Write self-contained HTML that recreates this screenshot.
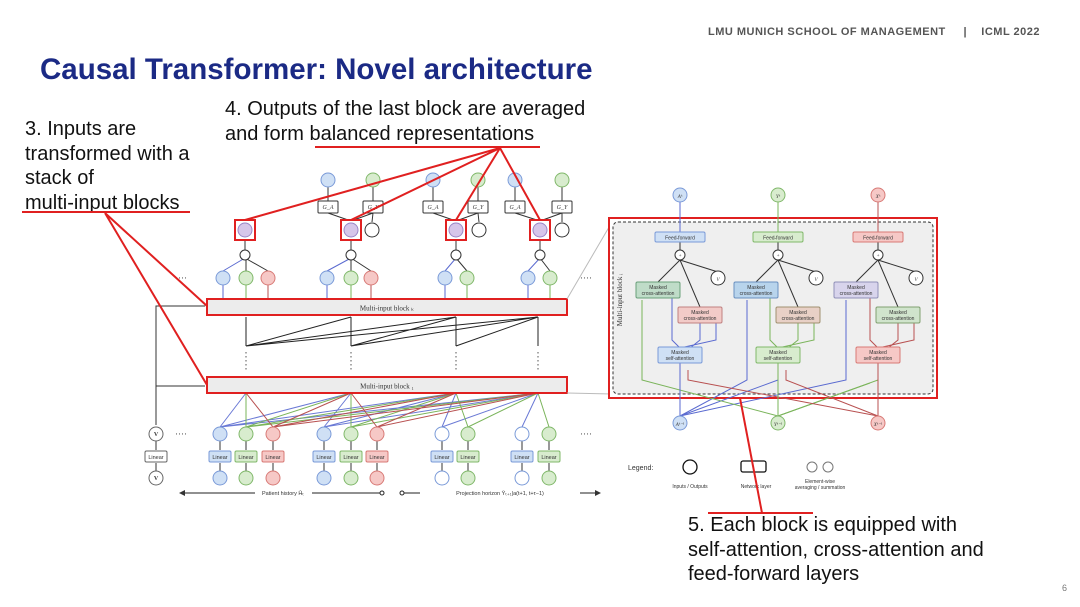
<!DOCTYPE html>
<html><head><meta charset="utf-8">
<style>
html,body{margin:0;padding:0;background:#fff;}
body{width:1080px;height:607px;overflow:hidden;position:relative;font-family:"Liberation Sans",sans-serif;}
.t{position:absolute;color:#111;font-size:20px;line-height:24.5px;}
</style></head><body>
<div style="position:absolute;left:708px;top:26px;font-size:11px;font-weight:bold;color:#555;letter-spacing:0.5px;">LMU MUNICH SCHOOL OF MANAGEMENT &nbsp;&nbsp;&nbsp;&nbsp;|&nbsp;&nbsp;&nbsp; ICML 2022</div>
<div style="position:absolute;left:40px;top:53px;font-size:29.5px;font-weight:bold;color:#1b2a85;">Causal Transformer: Novel architecture</div>
<div class="t" style="left:25px;top:117px;">3. Inputs are<br>transformed with a<br>stack of<br>multi-input blocks</div>
<div class="t" style="left:225px;top:97px;">4. Outputs of the last block are averaged<br>and form balanced representations</div>
<div class="t" style="left:688px;top:513px;">5. Each block is equipped with<br>self-attention, cross-attention and<br>feed-forward layers</div>
<div style="position:absolute;left:1062px;top:583px;font-size:9px;color:#777;">6</div>

<svg width="1080" height="607" style="position:absolute;left:0;top:0" font-family="Liberation Serif,serif">
<defs>
<marker id="ar" markerWidth="6" markerHeight="6" refX="5" refY="3" orient="auto"><path d="M0,0L6,3L0,6z" fill="#333"/></marker>
</defs>
<g stroke-width="1" fill="none">
<g stroke="#5a6ad0" opacity="0.9">
<path d="M220,427L246,393M220,427L351,393M220,427L456,393M220,427L538,393M324,427L351,393M324,427L456,393M324,427L538,393M442,427L456,393M442,427L538,393M522,427L538,393"/>
</g>
<g stroke="#7ab45a">
<path d="M246,427L246,393M246,427L351,393M246,427L456,393M246,427L538,393M351,427L351,393M351,427L456,393M351,427L538,393M468,427L456,393M468,427L538,393M549,427L538,393"/>
</g>
<g stroke="#b85050">
<path d="M273,427L246,393M273,427L351,393M273,427L456,393M273,427L538,393M377,427L351,393M377,427L456,393M377,427L538,393"/>
</g>
<g stroke="#222">
<path d="M246,346L246,317M351,346L351,317M456,346L456,317M538,346L538,317"/>
<path d="M246,346L351,317M246,346L456,317M246,346L538,317M351,346L456,317M351,346L538,317M456,346L538,317"/>
</g>
<g stroke="#555" stroke-dasharray="1.5,2.5"><path d="M246,352V372M351,352V372M456,352V372M538,352V372"/></g>
<path d="M156,425V306H205M156,386H205" stroke="#333"/>
<g stroke="#5a6ad0"><path d="M223,299V285M327,299V285M445,299V285M528,299V285"/></g>
<g stroke="#7ab45a"><path d="M246,299V285M351,299V285M467,299V285M550,299V285"/></g>
<g stroke="#b85050"><path d="M268,299V285M371,299V285"/></g>
<g stroke="#5a6ad0"><path d="M223,271L245,258M327,271L351,258M445,271L456,258M528,271L540,258"/></g>
<g stroke="#333"><path d="M246,271V260M268,271L245,258M351,271V260M371,271L351,258M467,271L456,258M550,271L540,258"/>
<path d="M245,250V240M351,250V240M456,250V240M540,250V240"/>
<path d="M351,221L328,213M351,221L373,213M372,222L373,213M456,221L433,213M456,221L478,213M479,222L478,213M540,221L515,213M540,221L562,213M562,222L562,213"/>
<path d="M328,201V187M373,201V187M433,201V187M478,201V187M515,201V187M562,201V187"/>
<path d="M220,450V441M246,450V441M273,450V441M324,450V441M351,450V441M377,450V441M442,450V441M468,450V441M522,450V441M549,450V441M156,450V441"/>
<path d="M220,471V463M246,471V463M273,471V463M324,471V463M351,471V463M377,471V463M442,471V463M468,471V463M522,471V463M549,471V463M156,471V463"/>
</g>
</g>
<rect x="207" y="299" width="360" height="16" fill="#ececec" stroke="#e02020" stroke-width="2"/>
<text x="387" y="310.5" font-size="7" text-anchor="middle" fill="#333">Multi-input block ₖ</text>
<rect x="207" y="377" width="360" height="16" fill="#ececec" stroke="#e02020" stroke-width="2"/>
<text x="387" y="388.5" font-size="7" text-anchor="middle" fill="#333">Multi-input block ₁</text>
<g stroke-width="1">
<circle cx="328" cy="180" r="7" fill="#cfe0f5" stroke="#7a9ad8"/><circle cx="373" cy="180" r="7" fill="#d8ecce" stroke="#80b86a"/>
<circle cx="433" cy="180" r="7" fill="#cfe0f5" stroke="#7a9ad8"/><circle cx="478" cy="180" r="7" fill="#d8ecce" stroke="#80b86a"/>
<circle cx="515" cy="180" r="7" fill="#cfe0f5" stroke="#7a9ad8"/><circle cx="562" cy="180" r="7" fill="#d8ecce" stroke="#80b86a"/>
<g fill="#fff" stroke="#333">
<rect x="318" y="201" width="20" height="12" rx="1"/><rect x="363" y="201" width="20" height="12" rx="1"/>
<rect x="423" y="201" width="20" height="12" rx="1"/><rect x="468" y="201" width="20" height="12" rx="1"/>
<rect x="505" y="201" width="20" height="12" rx="1"/><rect x="552" y="201" width="20" height="12" rx="1"/>
<circle cx="372" cy="230" r="7"/><circle cx="479" cy="230" r="7"/><circle cx="562" cy="230" r="7"/>
<circle cx="245" cy="255" r="5"/><circle cx="351" cy="255" r="5"/><circle cx="456" cy="255" r="5"/><circle cx="540" cy="255" r="5"/>
</g>
<g font-size="6" fill="#333" text-anchor="middle" font-style="italic">
<text x="328" y="209">G_A</text><text x="373" y="209">G_Y</text><text x="433" y="209">G_A</text><text x="478" y="209">G_Y</text><text x="515" y="209">G_A</text><text x="562" y="209">G_Y</text>
</g>
<g>
<rect x="235" y="220" width="20" height="20" fill="#fff" stroke="#e02020" stroke-width="2"/><circle cx="245" cy="230" r="7" fill="#d6c6ea" stroke="#9a86c6"/>
<rect x="341" y="220" width="20" height="20" fill="#fff" stroke="#e02020" stroke-width="2"/><circle cx="351" cy="230" r="7" fill="#d6c6ea" stroke="#9a86c6"/>
<rect x="446" y="220" width="20" height="20" fill="#fff" stroke="#e02020" stroke-width="2"/><circle cx="456" cy="230" r="7" fill="#d6c6ea" stroke="#9a86c6"/>
<rect x="530" y="220" width="20" height="20" fill="#fff" stroke="#e02020" stroke-width="2"/><circle cx="540" cy="230" r="7" fill="#d6c6ea" stroke="#9a86c6"/>
</g>
<g>
<circle cx="223" cy="278" r="7" fill="#cfe0f5" stroke="#7a9ad8"/><circle cx="246" cy="278" r="7" fill="#d8ecce" stroke="#80b86a"/><circle cx="268" cy="278" r="7" fill="#f6c8c6" stroke="#d87a76"/>
<circle cx="327" cy="278" r="7" fill="#cfe0f5" stroke="#7a9ad8"/><circle cx="351" cy="278" r="7" fill="#d8ecce" stroke="#80b86a"/><circle cx="371" cy="278" r="7" fill="#f6c8c6" stroke="#d87a76"/>
<circle cx="445" cy="278" r="7" fill="#cfe0f5" stroke="#7a9ad8"/><circle cx="467" cy="278" r="7" fill="#d8ecce" stroke="#80b86a"/>
<circle cx="528" cy="278" r="7" fill="#cfe0f5" stroke="#7a9ad8"/><circle cx="550" cy="278" r="7" fill="#d8ecce" stroke="#80b86a"/>
</g>
<g>
<circle cx="220" cy="434" r="7" fill="#cfe0f5" stroke="#7a9ad8"/><circle cx="246" cy="434" r="7" fill="#d8ecce" stroke="#80b86a"/><circle cx="273" cy="434" r="7" fill="#f6c8c6" stroke="#d87a76"/>
<circle cx="324" cy="434" r="7" fill="#cfe0f5" stroke="#7a9ad8"/><circle cx="351" cy="434" r="7" fill="#d8ecce" stroke="#80b86a"/><circle cx="377" cy="434" r="7" fill="#f6c8c6" stroke="#d87a76"/>
<circle cx="442" cy="434" r="7" fill="#fff" stroke="#7a9ad8"/><circle cx="468" cy="434" r="7" fill="#d8ecce" stroke="#80b86a"/>
<circle cx="522" cy="434" r="7" fill="#fff" stroke="#7a9ad8"/><circle cx="549" cy="434" r="7" fill="#d8ecce" stroke="#80b86a"/>
<circle cx="156" cy="434" r="7" fill="#fff" stroke="#666"/>
<circle cx="220" cy="478" r="7" fill="#cfe0f5" stroke="#7a9ad8"/><circle cx="246" cy="478" r="7" fill="#d8ecce" stroke="#80b86a"/><circle cx="273" cy="478" r="7" fill="#f6c8c6" stroke="#d87a76"/>
<circle cx="324" cy="478" r="7" fill="#cfe0f5" stroke="#7a9ad8"/><circle cx="351" cy="478" r="7" fill="#d8ecce" stroke="#80b86a"/><circle cx="377" cy="478" r="7" fill="#f6c8c6" stroke="#d87a76"/>
<circle cx="442" cy="478" r="7" fill="#fff" stroke="#7a9ad8"/><circle cx="468" cy="478" r="7" fill="#d8ecce" stroke="#80b86a"/>
<circle cx="522" cy="478" r="7" fill="#fff" stroke="#7a9ad8"/><circle cx="549" cy="478" r="7" fill="#d8ecce" stroke="#80b86a"/>
<circle cx="156" cy="478" r="7" fill="#fff" stroke="#666"/>
<g stroke-width="1">
<rect x="209" y="451" width="22" height="11" rx="1.5" fill="#cfe0f5" stroke="#7a9ad8"/><rect x="235" y="451" width="22" height="11" rx="1.5" fill="#d8ecce" stroke="#80b86a"/><rect x="262" y="451" width="22" height="11" rx="1.5" fill="#f6c8c6" stroke="#d87a76"/>
<rect x="313" y="451" width="22" height="11" rx="1.5" fill="#cfe0f5" stroke="#7a9ad8"/><rect x="340" y="451" width="22" height="11" rx="1.5" fill="#d8ecce" stroke="#80b86a"/><rect x="366" y="451" width="22" height="11" rx="1.5" fill="#f6c8c6" stroke="#d87a76"/>
<rect x="431" y="451" width="22" height="11" rx="1.5" fill="#cfe0f5" stroke="#7a9ad8"/><rect x="457" y="451" width="22" height="11" rx="1.5" fill="#d8ecce" stroke="#80b86a"/>
<rect x="511" y="451" width="22" height="11" rx="1.5" fill="#cfe0f5" stroke="#7a9ad8"/><rect x="538" y="451" width="22" height="11" rx="1.5" fill="#d8ecce" stroke="#80b86a"/>
<rect x="145" y="451" width="22" height="11" rx="1.5" fill="#fff" stroke="#666"/>
</g>
<g font-family="Liberation Sans,sans-serif" font-size="5.5" fill="#333" text-anchor="middle">
<text x="220" y="459">Linear</text><text x="246" y="459">Linear</text><text x="273" y="459">Linear</text><text x="324" y="459">Linear</text><text x="351" y="459">Linear</text><text x="377" y="459">Linear</text><text x="442" y="459">Linear</text><text x="468" y="459">Linear</text><text x="522" y="459">Linear</text><text x="549" y="459">Linear</text><text x="156" y="459">Linear</text>
</g>
<g font-size="6" font-weight="bold" fill="#333" text-anchor="middle">
<text x="156" y="436">V</text><text x="156" y="480">V</text>
</g>
</g>
<g fill="#444" font-size="9"><text x="175" y="437">····</text><text x="580" y="437">····</text><text x="175" y="281">····</text><text x="580" y="281">····</text></g>
<path d="M255,493H180" stroke="#222" marker-end="url(#ar)"/>
<path d="M312,493H380" stroke="#222"/><circle cx="382" cy="493" r="2" fill="#fff" stroke="#222"/>
<circle cx="402" cy="493" r="2" fill="#fff" stroke="#222"/><path d="M404,493H420" stroke="#222"/>
<path d="M580,493H600" stroke="#222" marker-end="url(#ar)"/>
<text x="283" y="495" font-family="Liberation Sans,sans-serif" font-size="5.5" text-anchor="middle" fill="#333">Patient history H̄ₜ</text>
<text x="500" y="495" font-family="Liberation Sans,sans-serif" font-size="5.5" text-anchor="middle" fill="#333">Projection horizon  Ȳₜ₊₁|a(t+1, t+τ−1)</text>
</g>

<path d="M567,299L612,222M567,393L612,394" stroke="#bbb" stroke-width="1"/>

<rect x="609" y="218" width="328" height="180" fill="#fff" stroke="#e02020" stroke-width="2"/>
<rect x="613" y="222" width="320" height="172" rx="5" fill="#efefef" stroke="#333" stroke-width="1" stroke-dasharray="3,2"/>
<text x="622" y="300" font-size="7" fill="#333" transform="rotate(-90 622 300)" text-anchor="middle">Multi-input block ᵢ</text>
<g fill="none" stroke-width="1">
<path d="M680,416L778,380L778,347" stroke="#5a6ad0"/>
<path d="M680,416L747,380V300" stroke="#5a6ad0"/>
<path d="M680,416L846,380V300" stroke="#5a6ad0"/>
<path d="M778,416L642,380V300" stroke="#7ab45a"/>
<path d="M778,416L878,380L878,347" stroke="#7ab45a"/>
<path d="M778,416L870,383" stroke="#7ab45a"/>
<path d="M878,416L688,380V370" stroke="#b85050"/>
<path d="M878,416L786,380V370" stroke="#b85050"/>
<path d="M680,416V362" stroke="#5a6ad0"/><path d="M778,416V362" stroke="#7ab45a"/><path d="M878,416V362" stroke="#b85050"/>
</g>
<g>
<g fill="none" stroke-width="1">
<path d="M680,188V232" stroke="#5a6ad0"/>
<path d="M680,242V250M680,260L658,282M680,260L700,307M680,260L718,272" stroke="#333"/>
<path d="M680,348L672,340V298M680,348L716,340V323M690,348L700,340V323" stroke="#5a6ad0"/>
</g>
<rect x="655" y="232" width="50" height="10" rx="1.5" fill="#cfe0f5" stroke="#7a9ad8"/>
<circle cx="680" cy="255" r="5" fill="#fff" stroke="#333"/>
<circle cx="718" cy="278" r="7" fill="#fff" stroke="#333"/>
<rect x="636" y="282" width="44" height="16" rx="1.5" fill="#bfdcc8" stroke="#6aa07a"/>
<rect x="678" y="307" width="44" height="16" rx="1.5" fill="#f2cbc8" stroke="#c08080"/>
<rect x="658" y="347" width="44" height="16" rx="1.5" fill="#cfe0f5" stroke="#7a9ad8"/>
<circle cx="680" cy="423" r="7" fill="#cfe0f5" stroke="#7a9ad8"/>
<circle cx="680" cy="195" r="7" fill="#cfe0f5" stroke="#7a9ad8"/>
</g>
<g>
<g fill="none" stroke-width="1">
<path d="M778,188V232" stroke="#7ab45a"/>
<path d="M778,242V250M778,260L756,282M778,260L798,307M778,260L816,272" stroke="#333"/>
<path d="M778,348L770,340V298M778,348L814,340V323M788,348L798,340V323" stroke="#7ab45a"/>
</g>
<rect x="753" y="232" width="50" height="10" rx="1.5" fill="#d8ecce" stroke="#80b86a"/>
<circle cx="778" cy="255" r="5" fill="#fff" stroke="#333"/>
<circle cx="816" cy="278" r="7" fill="#fff" stroke="#333"/>
<rect x="734" y="282" width="44" height="16" rx="1.5" fill="#b8d4ec" stroke="#6a90c0"/>
<rect x="776" y="307" width="44" height="16" rx="1.5" fill="#e8d0c6" stroke="#a09070"/>
<rect x="756" y="347" width="44" height="16" rx="1.5" fill="#d8ecce" stroke="#80b86a"/>
<circle cx="778" cy="423" r="7" fill="#d8ecce" stroke="#80b86a"/>
<circle cx="778" cy="195" r="7" fill="#d8ecce" stroke="#80b86a"/>
</g>
<g>
<g fill="none" stroke-width="1">
<path d="M878,188V232" stroke="#b85050"/>
<path d="M878,242V250M878,260L856,282M878,260L898,307M878,260L916,272" stroke="#333"/>
<path d="M878,348L870,340V298M878,348L914,340V323M888,348L898,340V323" stroke="#b85050"/>
</g>
<rect x="853" y="232" width="50" height="10" rx="1.5" fill="#f6c8c6" stroke="#d87a76"/>
<circle cx="878" cy="255" r="5" fill="#fff" stroke="#333"/>
<circle cx="916" cy="278" r="7" fill="#fff" stroke="#333"/>
<rect x="834" y="282" width="44" height="16" rx="1.5" fill="#d8d4ec" stroke="#9090b8"/>
<rect x="876" y="307" width="44" height="16" rx="1.5" fill="#d0e4cc" stroke="#80a070"/>
<rect x="856" y="347" width="44" height="16" rx="1.5" fill="#f6c8c6" stroke="#d87a76"/>
<circle cx="878" cy="423" r="7" fill="#f6c8c6" stroke="#d87a76"/>
<circle cx="878" cy="195" r="7" fill="#f6c8c6" stroke="#d87a76"/>
</g>
<g font-family="Liberation Sans,sans-serif" font-size="5" fill="#333" text-anchor="middle">
<text x="680" y="239.5">Feed-forward</text><text x="778" y="239.5">Feed-forward</text><text x="878" y="239.5">Feed-forward</text>
<text x="658" y="289">Masked</text><text x="658" y="295">cross-attention</text>
<text x="700" y="314">Masked</text><text x="700" y="320">cross-attention</text>
<text x="680" y="354">Masked</text><text x="680" y="360">self-attention</text>
<text x="756" y="289">Masked</text><text x="756" y="295">cross-attention</text>
<text x="798" y="314">Masked</text><text x="798" y="320">cross-attention</text>
<text x="778" y="354">Masked</text><text x="778" y="360">self-attention</text>
<text x="856" y="289">Masked</text><text x="856" y="295">cross-attention</text>
<text x="898" y="314">Masked</text><text x="898" y="320">cross-attention</text>
<text x="878" y="354">Masked</text><text x="878" y="360">self-attention</text>
</g>
<g font-size="5" fill="#333" text-anchor="middle" font-style="italic">
<text x="680" y="198">Aᵏ</text><text x="778" y="198">Yᵏ</text><text x="878" y="198">Xᵏ</text>
<text x="680" y="426">Aᵏ⁻¹</text><text x="778" y="426">Yᵏ⁻¹</text><text x="878" y="426">Xᵏ⁻¹</text>
<text x="718" y="281">V</text><text x="816" y="281">V</text><text x="916" y="281">V</text>
<text x="680" y="257">+</text><text x="778" y="257">+</text><text x="878" y="257">+</text>
</g>
<g font-family="Liberation Sans,sans-serif" fill="#333">
<text x="628" y="470" font-size="7">Legend:</text>
<circle cx="690" cy="467" r="7" fill="#fff" stroke="#111" stroke-width="1.3"/>
<rect x="741" y="461" width="25" height="11" rx="2" fill="#fff" stroke="#111" stroke-width="1.3"/>
<circle cx="812" cy="467" r="5" fill="#fff" stroke="#777"/><circle cx="828" cy="467" r="5" fill="#fff" stroke="#777"/>
<text x="690" y="488" font-size="5" text-anchor="middle">Inputs / Outputs</text>
<text x="756" y="488" font-size="5" text-anchor="middle">Network layer</text>
<text x="820" y="483" font-size="5" text-anchor="middle">Element-wise</text>
<text x="820" y="489" font-size="5" text-anchor="middle">averaging / summation</text>
</g>

<g stroke="#e02020" stroke-width="2" fill="none">
<path d="M22,212H190"/>
<path d="M105,213L207,306M105,213L207,385"/>
<path d="M315,147H540"/>
<path d="M500,148L245,220M500,148L351,220M500,148L456,220M500,148L540,220"/>
<path d="M708,513H813"/>
<path d="M740,398L762,513"/>
</g>
</svg>
</body></html>
